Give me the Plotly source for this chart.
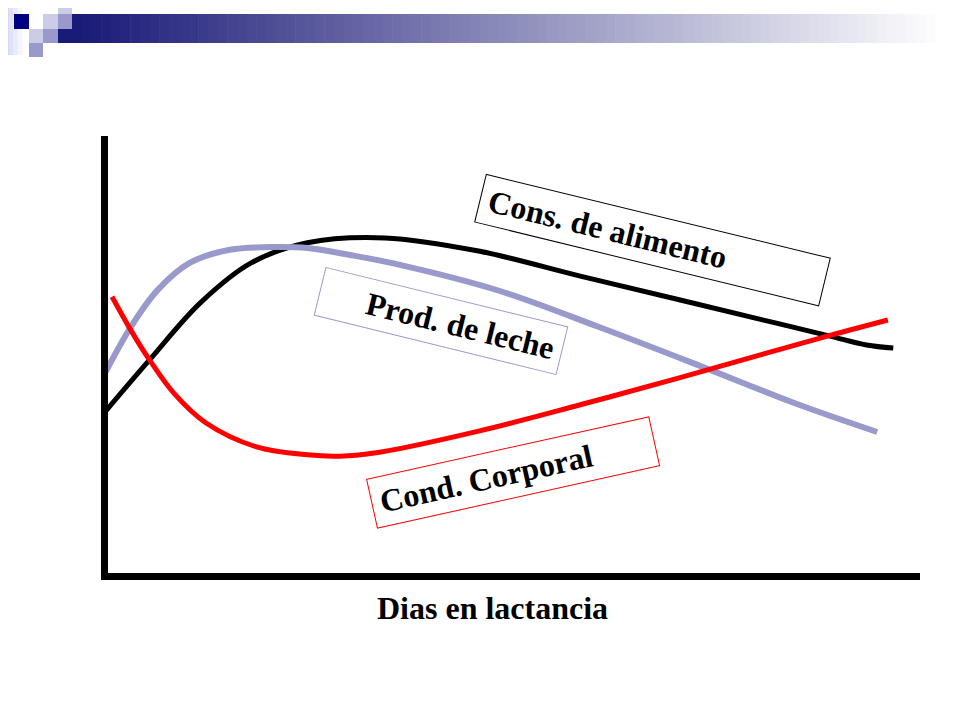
import plotly.graph_objects as go

# curvas de lactancia (dias 0-305, escala relativa 0-100)
dias_alimento = [0, 17, 36, 55, 76, 105, 140, 178, 215, 245, 271, 285, 295]
cons_alimento = [37.1, 49.2, 62.2, 71.3, 75.9, 77.0, 74.0, 68.3, 62.9, 58.5, 54.7, 52.6, 51.9]

dias_leche = [0, 10, 20, 32, 47, 62, 76, 92, 111, 148, 185, 223, 258, 289]
prod_leche = [45.8, 56.7, 65.1, 71.3, 74.3, 74.9, 74.7, 73.1, 70.8, 64.9, 56.7, 47.8, 39.4, 32.8]

dias_cc = [3, 10, 17, 26, 38, 57, 76, 88, 103, 140, 178, 215, 245, 272, 293]
cond_corporal = [63.6, 56.0, 49.2, 41.7, 34.9, 29.4, 27.6, 27.3, 28.2, 33.0, 39.0, 45.1, 50.3, 54.9, 58.3]

W, H = 960, 720
OX, OY = 8, 8  # margen del body de la pagina
LAVANDA = '#9999CC'
FUENTE = 'Liberation Serif'


def fx(p):
    return (p - OX) / W


def fy(p):
    return 1 - (p - OY) / H


fig = go.Figure()

fig.add_trace(go.Scatter(x=dias_alimento, y=cons_alimento, mode='lines',
                         line=dict(color='black', width=5, shape='spline')))
fig.add_trace(go.Scatter(x=dias_leche, y=prod_leche, mode='lines',
                         line=dict(color=LAVANDA, width=6, shape='spline')))
fig.add_trace(go.Scatter(x=dias_cc, y=cond_corporal, mode='lines',
                         line=dict(color='#FF0000', width=5, shape='spline')))


def rect(x0, y0, x1, y1, color):
    fig.add_shape(type='rect', xref='paper', yref='paper',
                  x0=fx(x0), x1=fx(x1), y0=fy(y0), y1=fy(y1),
                  line_width=0, fillcolor=color, layer='below')


# banda degradada de la cabecera
n = 90
x_ini, x_fin = 72, 945
for i in range(n):
    f = i / (n - 1)
    r = int(26 + f * (255 - 26))
    b = int(120 + f * (255 - 120))
    a = x_ini + (x_fin - x_ini) * i / n
    rect(a, 14, a + (x_fin - x_ini) / n + 0.6, 43, f'rgb({r},{r},{b})')

# franja lateral suave
for i in range(6):
    f = i / 5
    c = int(205 + f * 50)
    rect(i * 4.5, 0, i * 4.5 + 4.6, 55, f'rgb({c},{c},{min(255, c + 25)})')

# cuadritos del logo
rect(14, 14, 29, 29, '#000080')
rect(43, 14, 58, 29, '#CCCCE6')
rect(58, 0, 72, 14, '#CCCCE6')
rect(58, 14, 72, 29, LAVANDA)
rect(58, 29, 72, 43, '#1a1a78')
rect(29, 29, 43, 43, '#CCCCE6')
rect(43, 29, 58, 43, LAVANDA)
rect(29, 43, 43, 57, LAVANDA)


def etiqueta(texto, cx, cy, ancho, alto, angulo, borde, align):
    fig.add_annotation(x=fx(cx), y=fy(cy), xref='paper', yref='paper',
                       text=texto, showarrow=False, textangle=angulo,
                       width=ancho, height=alto, align=align, valign='middle',
                       bordercolor=borde, borderwidth=1, borderpad=0,
                       xanchor='center', yanchor='middle',
                       font=dict(family=FUENTE, size=32, color='black', weight='bold'))


etiqueta('\u00a0Cons. de alimento', 652, 240, 353, 48, 13.7, 'black', 'left')
etiqueta('Prod. de leche\u00a0', 441, 321, 248, 48, 13.8, LAVANDA, 'right')
etiqueta('\u00a0Cond. Corporal', 513, 472, 288, 49, -12.5, '#FF0000', 'left')

fig.add_annotation(x=fx(492), y=fy(608), xref='paper', yref='paper',
                   text='Dias en lactancia', showarrow=False,
                   xanchor='center', yanchor='middle',
                   font=dict(family=FUENTE, size=32, color='black', weight='bold'))

fig.update_layout(
    width=W, height=H,
    margin=dict(l=0, r=0, t=0, b=0),
    paper_bgcolor='white', plot_bgcolor='white',
    showlegend=False,
    xaxis=dict(domain=[fx(107.5), fx(920)], range=[1.3, 305],
               showline=True, linecolor='black', linewidth=7,
               showgrid=False, zeroline=False, showticklabels=False, ticks=''),
    yaxis=dict(domain=[fy(572.5), fy(136)], range=[0.8, 100.2],
               showline=True, linecolor='black', linewidth=7,
               showgrid=False, zeroline=False, showticklabels=False, ticks=''),
)

fig.write_html("out.html")
